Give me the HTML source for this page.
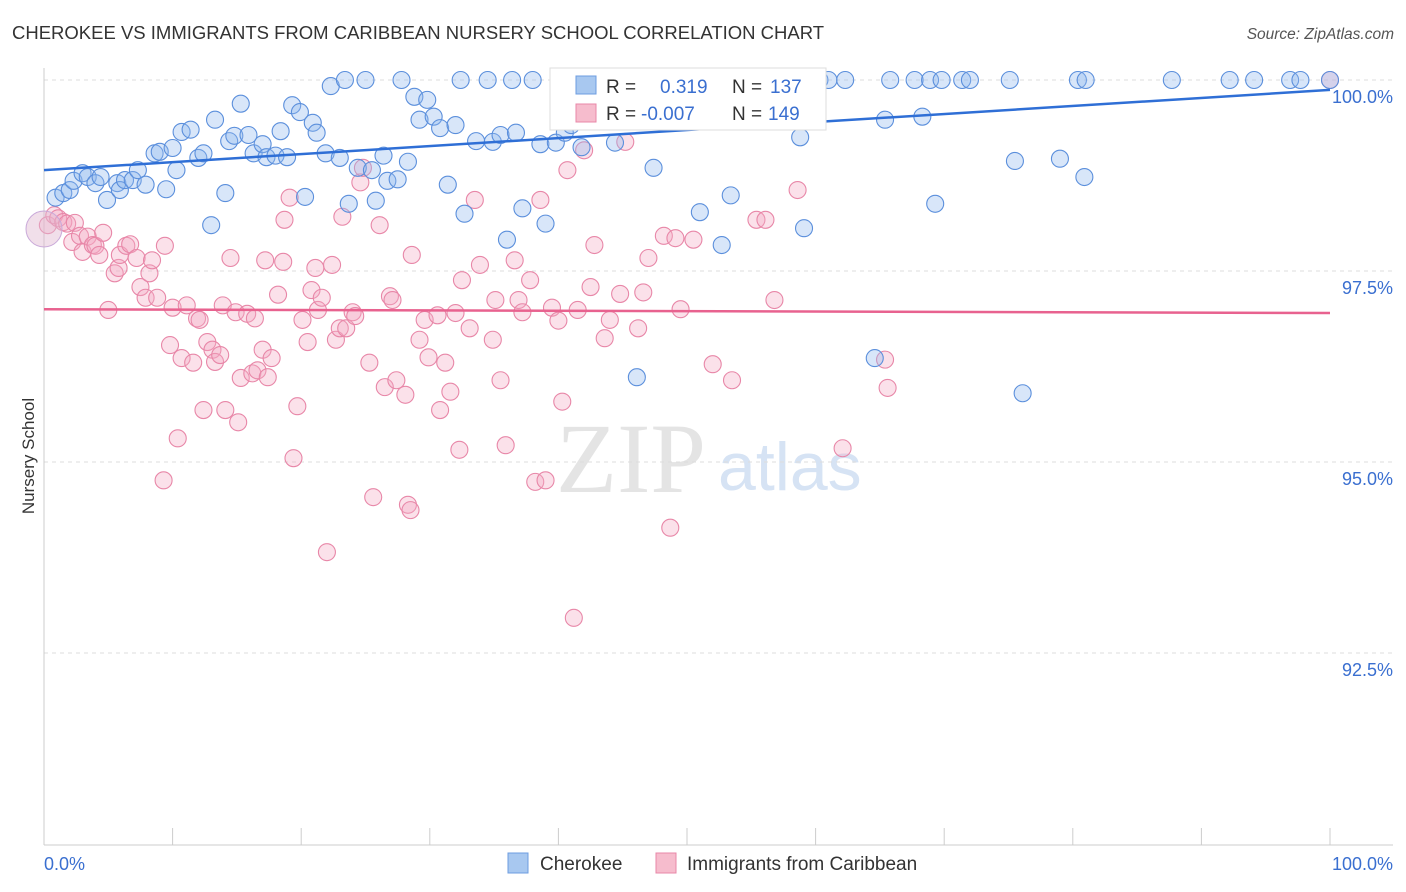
<!DOCTYPE html>
<html><head><meta charset="utf-8"><style>
body{margin:0;background:#fff;font-family:"Liberation Sans",sans-serif}
#w{position:relative;width:1406px;height:892px;overflow:hidden}
</style></head><body><div id="w">
<svg id="s" width="1406" height="892" xmlns="http://www.w3.org/2000/svg">
<text x="12" y="39" font-size="18.5" fill="#333">CHEROKEE VS IMMIGRANTS FROM CARIBBEAN NURSERY SCHOOL CORRELATION CHART</text>
<text x="1394" y="39" font-size="15.5" fill="#555" text-anchor="end" font-style="italic">Source: ZipAtlas.com</text>
<text x="34" y="456" font-size="17" fill="#333" text-anchor="middle" transform="rotate(-90 34 456)">Nursery School</text>
<text x="556" y="492" font-size="100" fill="#e4e4e4" font-family="Liberation Serif">ZIP</text>
<text x="718" y="490" font-size="68" fill="#d6e3f4">atlas</text>
<g id="grid"></g><g id="pts"></g><g id="lines"></g>
<g>
<rect x="550" y="68" width="276" height="62" fill="#fff" stroke="#ddd"/>
<rect x="576" y="76" width="20" height="18" fill="#a8c8f0" stroke="#6d9de0"/>
<rect x="576" y="104" width="20" height="18" fill="#f6bccd" stroke="#e887a8"/>
<text x="606" y="93" font-size="19" fill="#333">R =  <tspan fill="#3a6fd0" x="660">0.319</tspan><tspan fill="#333" x="732">N =</tspan><tspan fill="#3a6fd0" x="770">137</tspan></text>
<text x="606" y="120" font-size="19" fill="#333">R = <tspan fill="#3a6fd0" x="641">-0.007</tspan><tspan fill="#333" x="732">N =</tspan><tspan fill="#3a6fd0" x="768">149</tspan></text>
</g>
<g>
<rect x="508" y="853" width="20" height="20" fill="#a8c8f0" stroke="#6d9de0"/>
<text x="540" y="870" font-size="19" fill="#333">Cherokee</text>
<rect x="656" y="853" width="20" height="20" fill="#f6bccd" stroke="#e887a8"/>
<text x="687" y="870" font-size="19" fill="#333">Immigrants from Caribbean</text>
</g>
</svg></div>
<script>
const yTicks=[100,97.5,95,92.5];
const yTickLabels=["100.0%","97.5%","95.0%","92.5%"];
const xTickVals=[0,10,20,30,40,50,60,70,80,90,100];
const blueX=[0.9,1.5,2.0,2.3,3.0,3.4,4.0,4.4,4.9,5.7,5.9,6.3,6.9,7.3,7.9,8.6,9.0,9.5,10.0,10.3,10.7,11.4,12.0,12.4,13.0,13.3,14.1,14.4,14.8,15.3,15.9,16.3,17.0,17.3,18.0,18.4,18.9,19.3,19.9,20.3,20.9,21.2,21.9,22.3,23.0,23.4,23.7,24.4,25.0,25.5,25.8,26.4,26.7,27.5,27.8,28.3,28.8,29.2,29.8,30.3,30.8,31.4,32.0,32.4,32.7,33.6,34.5,34.9,35.5,36.0,36.4,36.7,37.2,38.0,38.6,39.0,39.8,40.5,41.0,41.8,42.5,43.6,44.4,45.1,46.1,46.4,47.4,47.9,50.2,51.0,51.6,52.7,53.4,54.0,54.5,56.1,58.0,58.8,59.1,60.3,61.0,62.3,64.6,65.4,65.8,67.7,68.3,68.9,69.3,69.8,71.4,72.0,75.1,75.5,76.1,79.0,80.4,81.0,80.9,87.7,92.2,94.1,96.9,97.7,100];
const blueY=[98.46,98.52,98.56,98.68,98.78,98.73,98.65,98.73,98.43,98.65,98.56,98.69,98.69,98.82,98.63,99.04,99.06,98.57,99.11,98.82,99.32,99.35,98.98,99.04,98.10,99.48,98.52,99.20,99.27,99.69,99.28,99.04,99.16,98.99,99.01,99.33,98.99,99.67,99.58,98.47,99.44,99.31,99.04,99.92,98.98,100,98.38,98.85,100,98.82,98.42,99.01,98.68,98.70,100,98.93,99.78,99.48,99.74,99.52,99.37,98.63,99.41,100,98.25,99.20,100,99.19,99.28,97.91,100,99.31,98.32,100,99.16,98.12,99.18,99.31,99.41,99.12,99.97,100,99.18,100,96.11,100,98.85,100,100,98.27,100,97.84,98.49,100,100,100,100,99.25,98.06,100,100,100,96.36,99.48,100,100,99.52,100,98.38,100,100,100,100,98.94,95.90,98.97,100,100,98.73,100,100,100,100,100,100];
const pinkX=[0.3,0.8,1.1,1.5,1.8,2.2,2.4,2.8,3.0,3.4,3.8,4.0,4.3,4.6,5.0,5.5,5.8,5.9,6.4,6.7,7.2,7.5,7.9,8.2,8.4,8.8,9.4,9.8,10.0,10.4,10.7,9.3,11.1,11.6,11.9,12.1,12.4,12.7,13.1,13.3,13.7,13.9,14.1,14.5,14.9,15.1,15.3,15.8,16.2,16.4,16.6,17.0,17.2,17.4,17.7,18.2,18.6,18.7,19.1,19.4,19.7,20.1,20.5,20.8,21.1,21.3,21.6,22.0,22.4,22.7,23.0,23.2,23.5,24.0,24.2,24.6,24.8,25.3,25.6,26.1,26.5,26.9,27.1,27.4,28.1,28.3,28.5,28.6,29.2,29.6,29.9,30.6,30.8,31.2,31.6,32.0,32.3,32.5,33.1,33.5,33.9,34.9,35.1,35.5,35.9,36.6,36.9,37.2,37.8,38.2,38.6,39.0,39.5,40.0,40.3,40.7,41.2,41.5,42.0,42.5,42.8,43.6,44.0,44.8,45.2,46.2,46.6,47.0,48.2,48.7,49.1,49.5,50.5,52.0,53.5,55.4,56.1,56.8,58.6,62.1,65.4,65.6,100];
const pinkY=[98.10,98.23,98.19,98.14,98.12,97.88,98.13,97.96,97.75,97.95,97.84,97.83,97.71,98.00,96.99,97.47,97.54,97.71,97.83,97.85,97.67,97.29,97.15,97.47,97.64,97.15,97.83,96.53,97.02,95.31,96.36,94.76,97.05,96.30,96.88,96.86,95.68,96.57,96.47,96.31,96.40,97.05,95.68,97.67,96.96,95.52,96.10,96.94,96.16,96.88,96.20,96.47,97.64,96.11,96.36,97.19,97.62,98.17,98.46,95.05,95.73,96.86,96.57,97.25,97.54,96.99,97.15,93.82,97.58,96.60,96.75,98.21,96.75,96.96,96.91,98.66,98.85,96.30,94.54,98.10,95.98,97.17,97.12,96.07,95.88,94.44,94.37,97.71,96.60,96.86,96.37,96.92,95.68,96.30,95.92,96.95,95.16,97.38,96.75,98.43,97.58,96.60,97.12,96.07,95.22,97.64,97.12,96.96,97.38,94.74,98.43,94.76,97.02,96.85,95.79,98.82,92.96,96.99,99.08,97.29,97.84,96.62,96.86,97.20,99.19,96.75,97.22,97.67,97.96,94.14,97.93,97.00,97.91,96.28,96.07,98.17,98.17,97.12,98.56,95.18,96.34,95.97,100];
const blueTrend=[98.82,99.87];
const pinkTrend=[97.0,96.95];
const NS="http://www.w3.org/2000/svg";
const sx=v=>44+v*12.86;
const sy=v=>80+(100-v)*76.4;
function mk(tag,attrs,parent){const e=document.createElementNS(NS,tag);for(const k in attrs)e.setAttribute(k,attrs[k]);parent.appendChild(e);return e;}
const grid=document.getElementById('grid'),pts=document.getElementById('pts'),lines=document.getElementById('lines');
yTicks.forEach((t,i)=>{
 const l=mk('line',{x1:44,x2:1393,y1:sy(t),y2:sy(t),stroke:'#ddd','stroke-dasharray':'4,4'},grid);
 
 
 const tx=mk('text',{x:1393,y:sy(t)+23,'font-size':18,fill:'#3a6fd0','text-anchor':'end'},grid);
 tx.textContent=yTickLabels[i];
 
 
});
const ax=mk('line',{x1:44,x2:1393,y1:845,y2:845,stroke:'#ccc'},grid);


const ay=mk('line',{x1:44,x2:44,y1:68,y2:845,stroke:'#ccc'},grid);


xTickVals.forEach(v=>{
 const t=mk('line',{x1:sx(v),x2:sx(v),y1:828,y2:845,stroke:'#ccc'},grid);
 
 
});
const xl0=mk('text',{x:44,y:870,'font-size':18,fill:'#3a6fd0'},grid);xl0.textContent='0.0%';


const xl1=mk('text',{x:1393,y:870,'font-size':18,fill:'#3a6fd0','text-anchor':'end'},grid);xl1.textContent='100.0%';


function dots(X,Y,fill,stroke,name){X.forEach((x,i)=>{
 const c=mk('circle',{cx:sx(x),cy:sy(Y[i]),r:8.5,fill:fill,'fill-opacity':0.35,stroke:stroke,'stroke-width':1.1},pts);
 
 
});}
dots(pinkX,pinkY,'#f4aac2','#e887a8','caribbean-point');
dots(blueX,blueY,'#8fb8ee','#5b8fdc','cherokee-point');
const bb=mk('circle',{cx:sx(0),cy:sy(98.05),r:18,fill:'#e0b8d0','fill-opacity':0.45,stroke:'#c9a9d9'},pts);


const bl=mk('line',{x1:sx(0),x2:sx(100),y1:sy(blueTrend[0]),y2:sy(blueTrend[1]),stroke:'#2f6fd6','stroke-width':2.5},lines);


const pl=mk('line',{x1:sx(0),x2:sx(100),y1:sy(pinkTrend[0]),y2:sy(pinkTrend[1]),stroke:'#e8628f','stroke-width':2.5},lines);


</script></body></html>
